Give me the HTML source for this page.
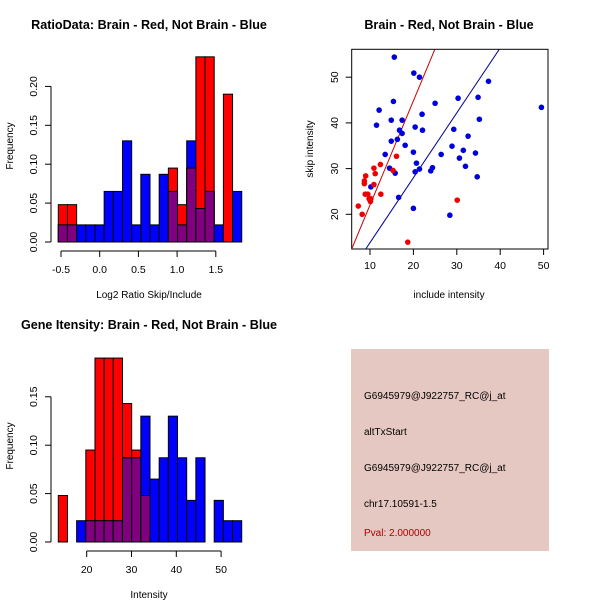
<!DOCTYPE html>
<html><head><meta charset="utf-8"><style>
html,body{margin:0;padding:0;background:#fff}
svg{display:block;font-family:"Liberation Sans",Arial,sans-serif}
</style></head><body>
<svg id="s" width="600" height="600" xmlns="http://www.w3.org/2000/svg">
<rect x="0" y="0" width="600" height="600" fill="#fff"/>
<text x="149" y="29" text-anchor="middle" font-size="12.6" font-weight="bold">RatioData: Brain - Red, Not Brain - Blue</text>
<text x="449" y="29" text-anchor="middle" font-size="12.6" font-weight="bold">Brain - Red, Not Brain - Blue</text>
<text x="149" y="329" text-anchor="middle" font-size="12.6" font-weight="bold">Gene Itensity: Brain - Red, Not Brain - Blue</text>
<text x="149" y="298" text-anchor="middle" font-size="10">Log2 Ratio Skip/Include</text>
<text x="149" y="598" text-anchor="middle" font-size="10">Intensity</text>
<text x="449" y="298" text-anchor="middle" font-size="10">include intensity</text>
<text transform="translate(13,146) rotate(-90)" text-anchor="middle" font-size="10">Frequency</text>
<text transform="translate(13,446) rotate(-90)" text-anchor="middle" font-size="10">Frequency</text>
<text transform="translate(313,149) rotate(-90)" text-anchor="middle" font-size="10">skip intensity</text>
<g id="h1"></g>
<g id="h2"></g>
<g id="sc"></g>
<g>
<rect x="351" y="349" width="198" height="202" fill="#e6c8c2"/>
<text x="364" y="399" font-size="10" fill="#000">G6945979@J922757_RC@j_at</text>
<text x="364" y="435" font-size="10" fill="#000">altTxStart</text>
<text x="364" y="471" font-size="10" fill="#000">G6945979@J922757_RC@j_at</text>
<text x="364" y="507" font-size="10" fill="#000">chr17.10591-1.5</text>
<text x="364" y="536" font-size="10" fill="#b00000">Pval: 2.000000</text>
</g>
</svg>
<script>
// Ratio histogram data
const ratioBinStart = -0.535;
const ratioBinWidth = 0.1185;
const ratioBlue = [0.022,0.022,0.022,0.022,0.022,0.065,0.065,0.13,0.022,0.087,0.022,0.087,0.065,0.022,0.13,0.043,0.065,0.022,0,0.065];
const ratioRed  = [0.048,0.048,0,0,0,0,0,0,0,0,0,0,0.095,0.048,0.095,0.238,0.238,0,0.19,0];
const ratioXTicks = [-0.5,0,0.5,1,1.5];
const ratioXLabels = ["-0.5","0.0","0.5","1.0","1.5"];
const ratioYTicks = [0,0.05,0.1,0.15,0.2];
const ratioYLabels = ["0.00","0.05","0.10","0.15","0.20"];
// Intensity histogram data
const intBinStart = 13.66;
const intBinWidth = 2.047;
const intBlue = [0,0,0.022,0.022,0.022,0.022,0.022,0.087,0.087,0.13,0.065,0.087,0.13,0.087,0.043,0.087,0,0.043,0.022,0.022];
const intRed  = [0.048,0,0,0.095,0.19,0.19,0.19,0.143,0.095,0.048,0,0,0,0,0,0,0,0,0,0];
const intXTicks = [20,30,40,50];
const intXLabels = ["20","30","40","50"];
const intYTicks = [0,0.05,0.1,0.15];
const intYLabels = ["0.00","0.05","0.10","0.15"];
// Scatter data
const blueX = [15.6,20.1,21.4,15.4,12.1,11.5,14.9,17.4,22.0,25.0,30.3,34.9,37.3,49.5,35.2,20.4,16.8,17.4,22.1,16.3,14.9,18.1,13.5,20.0,14.5,15.8,16.6,20.7,21.4,20.4,24.0,24.4,26.4,29.3,32.6,28.9,31.5,30.6,34.3,32.0,34.7,28.4,20.0,10.2];
const blueY = [54.4,50.9,50.0,44.7,42.8,39.5,40.6,40.6,41.9,44.3,45.4,45.6,49.1,43.4,40.8,39.1,38.4,37.7,38.4,36.4,36.0,35.1,33.1,33.6,30.1,29.0,23.7,31.2,29.9,29.3,29.5,30.2,33.1,38.6,37.1,34.9,34.0,32.3,33.4,30.5,28.2,19.8,21.3,26.0];
const redX = [7.3,8.2,9.0,8.7,8.7,8.9,9.5,9.8,10.1,10.2,10.9,11.2,10.9,12.4,12.5,15.3,16.1,18.7,30.1];
const redY = [21.8,20.0,28.4,27.3,26.7,24.4,24.4,23.4,22.8,23.4,30.1,28.9,26.5,30.9,24.4,29.6,32.7,13.9,23.1];
const redFit = [-0.77, 2.28];
const blueFit = [-0.4, 1.42];
const scXTicks = [10,20,30,40,50];
const scYTicks = [20,30,40,50];

const NS="http://www.w3.org/2000/svg";
function mk(tag, attrs, parent){const e=document.createElementNS(NS,tag);for(const k in attrs)e.setAttribute(k,attrs[k]);parent.appendChild(e);return e;}

function hist(g, start, w, blue, red, xT, xL, yT, yL, y0, pxPerUnitY, x0data, x0px, pxPerUnitX){
  const X=v=>x0px+(v-x0data)*pxPerUnitX;
  const Y=v=>y0-v*pxPerUnitY;
  for(let i=0;i<blue.length;i++){
    const a=X(start+i*w), b=X(start+(i+1)*w);
    const r=red[i], bl=blue[i];
    if(r>0){const e=mk('rect',{x:a,y:Y(r),width:b-a,height:y0-Y(r),fill:'#ff0000',stroke:'#000','stroke-width':1},g);
      
      }
    if(bl>0){const e=mk('rect',{x:a,y:Y(bl),width:b-a,height:y0-Y(bl),fill:'#0000ff',stroke:'#000','stroke-width':1},g);
      
      }
    const m=Math.min(r,bl);
    if(m>0){const e=mk('rect',{x:a,y:Y(m),width:b-a,height:y0-Y(m),fill:'#800080',stroke:'#000','stroke-width':1},g);
      
      }
  }
  const ya=mk('line',{x1:51,x2:51,y1:Y(yT[0]),y2:Y(yT[yT.length-1]),stroke:'#000'},g);
  
  
  yT.forEach((t,i)=>{mk('line',{x1:45,x2:51,y1:Y(t),y2:Y(t),stroke:'#000'},g);
    const tx=mk('text',{transform:`translate(37,${Y(t)}) rotate(-90)`,'text-anchor':'middle','font-size':10.5},g);
    tx.textContent=yL[i];
    
    });
  const xa=mk('line',{x1:X(xT[0]),x2:X(xT[xT.length-1]),y1:251,y2:251,stroke:'#000'},g);
  
  
  xT.forEach((t,i)=>{mk('line',{x1:X(t),x2:X(t),y1:251,y2:257,stroke:'#000'},g);
    const tx=mk('text',{x:X(t),y:273,'text-anchor':'middle','font-size':10.5},g);
    tx.textContent=xL[i];
    
    });
}
const h1=document.getElementById('h1');
hist(h1,ratioBinStart,ratioBinWidth,ratioBlue,ratioRed,ratioXTicks,ratioXLabels,ratioYTicks,ratioYLabels,242,778,0,99.7,77.4);
const h2=document.getElementById('h2');
h2.setAttribute('transform','translate(0,300)');
hist(h2,intBinStart,intBinWidth,intBlue,intRed,intXTicks,intXLabels,intYTicks,intYLabels,242,968,20,86.7,4.48);

const sc=document.getElementById('sc');
const SX=v=>370+(v-10)*4.34, SY=v=>214.3-(v-20)*4.57;
const cp=mk('clipPath',{id:'clp'},sc);mk('rect',{x:351.7,y:49.3,width:196.3,height:199.7},cp);
const box=mk('rect',{x:351.7,y:49.3,width:196.3,height:199.7,fill:'none',stroke:'#000'},sc);


scXTicks.forEach(t=>{mk('line',{x1:SX(t),x2:SX(t),y1:249,y2:255,stroke:'#000'},sc);
  const tx=mk('text',{x:SX(t),y:269,'text-anchor':'middle','font-size':10.5},sc);tx.textContent=t;
  
  });
scYTicks.forEach(t=>{mk('line',{x1:345.7,x2:351.7,y1:SY(t),y2:SY(t),stroke:'#000'},sc);
  const tx=mk('text',{transform:`translate(338,${SY(t)}) rotate(-90)`,'text-anchor':'middle','font-size':10.5},sc);tx.textContent=t;
  
  });
const pts=mk('g',{'clip-path':'url(#clp)'},sc);
function fit(f,col,name){const x1=0,x2=60;
  const l=mk('line',{x1:SX(x1),y1:SY(f[0]+f[1]*x1),x2:SX(x2),y2:SY(f[0]+f[1]*x2),stroke:col,'stroke-width':1},pts);
  
  }
fit(redFit,'#cc0000','red-fit-line');
fit(blueFit,'#00008b','blue-fit-line');
blueX.forEach((x,i)=>{const c=mk('circle',{cx:SX(x),cy:SY(blueY[i]),r:2.8,fill:'#0000dd'},pts);
  
  });
redX.forEach((x,i)=>{const c=mk('circle',{cx:SX(x),cy:SY(redY[i]),r:2.8,fill:'#ee0000'},pts);
  
  });
</script>
</body></html>
